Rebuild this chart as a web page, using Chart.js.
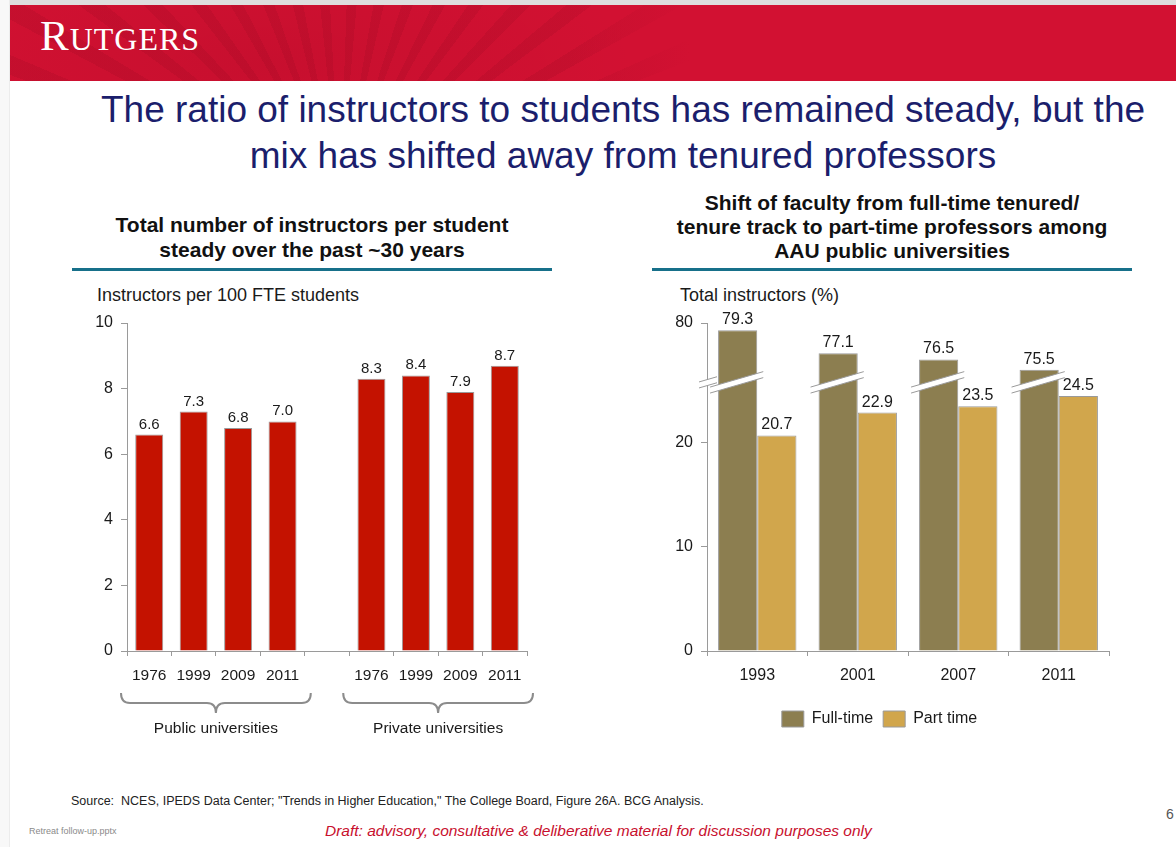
<!DOCTYPE html>
<html>
<head>
<meta charset="utf-8">
<script src="https://cdn.jsdelivr.net/npm/chart.js@4.4.1/dist/chart.umd.min.js"></script>
<style>
  body { margin:0; width:1176px; height:847px; position:relative; overflow:hidden; background:#fff;
         font-family:"Liberation Sans", Arial, sans-serif; color:#1a1a1a; }
  .abs { position:absolute; }
  #frame-top { left:0; top:0; width:1176px; height:5px; background:#dedede; }
  #frame-left { left:0; top:0; width:9px; height:847px; background:#f8f8f8; border-right:1px solid #ececec; }
  #banner { left:10px; top:5px; width:1166px; height:76px; overflow:hidden;
            background:
              radial-gradient(ellipse 520px 200px at 260px 60px, rgba(120,0,20,0.12), rgba(120,0,20,0) 70%),
              repeating-conic-gradient(from 10deg at 330px 190px, rgba(90,0,15,0.09) 0deg 3deg, rgba(0,0,0,0) 3deg 8deg);
            background-color:#d21132; }
  #banner .fade { position:absolute; left:560px; top:0; width:606px; height:76px;
            background:linear-gradient(90deg, rgba(210,17,50,0) 0px, #d21132 120px); }
  #logo { left:40px; top:14px; color:#fff; font-family:"Liberation Serif","DejaVu Serif",serif;
          letter-spacing:1px; white-space:nowrap; line-height:1; }
  #logo .big { font-size:43px; }
  #logo .small { font-size:32px; }
  #title { left:80px; top:87px; width:1086px; text-align:center; font-size:37px; line-height:46px; color:#1b1e6c; white-space:nowrap; }
  .subtitle { font-weight:bold; font-size:21px; text-align:center; width:480px; color:#111; white-space:nowrap; }
  .rule { height:3px; width:480px; background:#17708a; top:268px; }
  .axis-title { font-size:18px; line-height:20px; top:285px; color:#1a1a1a; white-space:nowrap; }
  #source { left:71px; top:794px; font-size:12.5px; color:#222; white-space:nowrap; }
  #draft { left:325px; top:822px; font-size:15.5px; font-style:italic; color:#c8102e; white-space:nowrap; }
  #file { left:29px; top:826px; font-size:9px; color:#8a8a8a; white-space:nowrap; }
  #page { left:1166px; top:806px; font-size:14px; color:#555; }
</style>
</head>
<body>
<div id="frame-top" class="abs"></div>
<div id="frame-left" class="abs"></div>
<div id="banner" class="abs"><div class="fade"></div></div>
<div id="logo" class="abs"><span class="big">R</span><span class="small">UTGERS</span></div>

<div id="title" class="abs">The ratio of instructors to students has remained steady, but the<br>mix has shifted away from tenured professors</div>

<div class="abs subtitle" style="left:72px; top:212px; line-height:25px;">Total number of instructors per student<br>steady over the past ~30 years</div>
<div class="abs rule" style="left:72px;"></div>
<div class="abs subtitle" style="left:652px; top:191px; line-height:24px;">Shift of faculty from full-time tenured/<br>tenure track to part-time professors among<br>AAU public universities</div>
<div class="abs rule" style="left:652px;"></div>

<div class="abs axis-title" style="left:97px;">Instructors per 100 FTE students</div>
<div class="abs axis-title" style="left:680px;">Total instructors (%)</div>

<canvas id="leftChart" class="abs" width="480" height="450" style="left:70px; top:300px;"></canvas>
<canvas id="rightChart" class="abs" width="500" height="437" style="left:650px; top:300px;"></canvas>

<div id="source" class="abs">Source:&nbsp; NCES, IPEDS Data Center; "Trends in Higher Education," The College Board, Figure 26A. BCG Analysis.</div>
<div id="file" class="abs">Retreat follow-up.pptx</div>
<div id="draft" class="abs">Draft: advisory, consultative &amp; deliberative material for discussion purposes only</div>
<div id="page" class="abs">6</div>

<script>
// ---- left chart: instructors per 100 FTE students ----
const eduYears = ['1976', '1999', '2009', '2011', '', '1976', '1999', '2009', '2011'];
const instructorsPer100 = [6.6, 7.3, 6.8, 7.0, null, 8.3, 8.4, 7.9, 8.7];
const leftTicks = [0, 2, 4, 6, 8, 10];
const groupLabels = ['Public universities', 'Private universities'];
const groupSpans = [[0, 3], [5, 8]];

// ---- right chart: full-time vs part-time share ----
const aauYears = ['1993', '2001', '2007', '2011'];
const fullTime = [79.3, 77.1, 76.5, 75.5];
const partTime = [20.7, 22.9, 23.5, 24.5];
const rightTicks = [0, 10, 20, 80];
const BREAK_AT = 25.8;     // where the y axis is cut
const BREAK_SHIFT = 48.5;  // value range removed above the cut

const toAxis = v => (v > 50 ? v - BREAK_SHIFT : v);

const FONT = '"Liberation Sans", Arial, sans-serif';
const GREY = '#9a9a9a';

// labels above each bar, using the real (unshifted) values
const valueLabels = {
  id: 'valueLabels',
  afterDatasetsDraw(chart, args, opts) {
    const ctx = chart.ctx;
    ctx.save();
    ctx.font = `${opts.size || 15}px ${FONT}`;
    ctx.fillStyle = '#1a1a1a';
    ctx.textAlign = 'center';
    ctx.textBaseline = 'alphabetic';
    opts.values.forEach((vals, i) => {
      chart.getDatasetMeta(i).data.forEach((bar, j) => {
        if (vals[j] == null) return;
        ctx.fillText(vals[j].toFixed(1), bar.x, bar.y - 6);
      });
    });
    ctx.restore();
  }
};

// curly braces grouping the x categories
const groupBraces = {
  id: 'groupBraces',
  afterDraw(chart, args, opts) {
    const { ctx, chartArea, scales: { x } } = chart;
    const step = x.getPixelForValue(1) - x.getPixelForValue(0);
    const top = chartArea.bottom + 42, mid = chartArea.bottom + 52, tip = chartArea.bottom + 62;
    ctx.save();
    ctx.strokeStyle = '#8c8c8c';
    ctx.lineWidth = 2;
    groupSpans.forEach(([a, b], i) => {
      const L = x.getPixelForValue(a) - step / 2 - 6;
      const R = x.getPixelForValue(b) + step / 2 + 6;
      const C = (L + R) / 2;
      ctx.beginPath();
      ctx.moveTo(L, top);
      ctx.quadraticCurveTo(L, mid, L + 9, mid);
      ctx.lineTo(C - 9, mid);
      ctx.quadraticCurveTo(C, mid, C, tip);
      ctx.quadraticCurveTo(C, mid, C + 9, mid);
      ctx.lineTo(R - 9, mid);
      ctx.quadraticCurveTo(R, mid, R, top);
      ctx.stroke();
      ctx.fillStyle = '#1a1a1a';
      ctx.font = `15.5px ${FONT}`;
      ctx.textAlign = 'center';
      ctx.textBaseline = 'middle';
      ctx.fillText(groupLabels[i], C, chartArea.bottom + 78);
    });
    ctx.restore();
  }
};

// slanted white band marking the cut in the y axis and the full-time bars
const axisBreak = {
  id: 'axisBreak',
  afterDatasetsDraw(chart) {
    const { ctx, chartArea, scales: { y } } = chart;
    const yc = y.getPixelForValue(BREAK_AT);
    const slope = 0.29, half = 3;
    function band(x0, x1) {
      const xc = (x0 + x1) / 2;
      const yAt = X => yc - slope * (X - xc);
      ctx.beginPath();
      ctx.moveTo(x0, yAt(x0) - half);
      ctx.lineTo(x1, yAt(x1) - half);
      ctx.lineTo(x1, yAt(x1) + half);
      ctx.lineTo(x0, yAt(x0) + half);
      ctx.closePath();
      ctx.fillStyle = '#fff';
      ctx.fill();
      ctx.beginPath();
      ctx.moveTo(x0, yAt(x0) - half); ctx.lineTo(x1, yAt(x1) - half);
      ctx.moveTo(x0, yAt(x0) + half); ctx.lineTo(x1, yAt(x1) + half);
      ctx.strokeStyle = GREY;
      ctx.lineWidth = 1;
      ctx.stroke();
    }
    ctx.save();
    band(chartArea.left - 8, chartArea.left + 10);
    chart.getDatasetMeta(0).data.forEach(bar => {
      band(bar.x - bar.width / 2 - 8, bar.x + bar.width / 2 + 6);
    });
    ctx.restore();
  }
};

Chart.defaults.font.family = FONT;
Chart.defaults.color = '#1a1a1a';

new Chart(document.getElementById('leftChart'), {
  type: 'bar',
  data: {
    labels: eduYears,
    datasets: [{
      data: instructorsPer100,
      backgroundColor: '#c41200',
      borderColor: GREY,
      borderWidth: 1,
      barPercentage: 0.63,
      categoryPercentage: 1.0
    }]
  },
  options: {
    responsive: false,
    animation: false,
    layout: { padding: { top: 23, right: 23, left: 0, bottom: 0 } },
    plugins: {
      legend: { display: false },
      tooltip: { enabled: false },
      valueLabels: { values: [instructorsPer100], size: 15 }
    },
    scales: {
      x: {
        afterFit: s => { s.height = 99; },
        grid: { drawOnChartArea: false, offset: true, tickLength: 5, color: GREY },
        border: { color: GREY },
        ticks: { font: { size: 15.5 }, padding: 10, maxRotation: 0, autoSkip: false }
      },
      y: {
        min: 0, max: 10,
        afterFit: s => { s.width = 57; },
        afterBuildTicks: s => { s.ticks = leftTicks.map(v => ({ value: v })); },
        grid: { drawOnChartArea: false, tickLength: 6, color: GREY },
        border: { color: GREY },
        ticks: { font: { size: 16 }, padding: 8 }
      }
    }
  },
  plugins: [valueLabels, groupBraces]
});

new Chart(document.getElementById('rightChart'), {
  type: 'bar',
  data: {
    labels: aauYears,
    datasets: [{
      label: 'Full-time',
      data: fullTime.map(toAxis),
      backgroundColor: '#8c7e50',
      borderColor: GREY,
      borderWidth: 1,
      barPercentage: 1.0,
      categoryPercentage: 0.78
    }, {
      label: 'Part time',
      data: partTime.map(toAxis),
      backgroundColor: '#d1a64c',
      borderColor: GREY,
      borderWidth: 1,
      barPercentage: 1.0,
      categoryPercentage: 0.78
    }]
  },
  options: {
    responsive: false,
    animation: false,
    layout: { padding: { top: 23, right: 41, left: 0, bottom: 0 } },
    plugins: {
      legend: {
        position: 'bottom',
        labels: { boxWidth: 22, boxHeight: 16, font: { size: 16 }, padding: 10, color: '#1a1a1a' }
      },
      tooltip: { enabled: false },
      valueLabels: { values: [fullTime, partTime], size: 16 }
    },
    scales: {
      x: {
        afterFit: s => { s.height = 50; },
        grid: { drawOnChartArea: false, offset: true, tickLength: 5, color: GREY },
        border: { color: GREY },
        ticks: { font: { size: 16 }, padding: 10, maxRotation: 0 }
      },
      y: {
        min: 0, max: toAxis(80),
        afterFit: s => { s.width = 57; },
        afterBuildTicks: s => { s.ticks = rightTicks.map(v => ({ value: toAxis(v) })); },
        grid: { drawOnChartArea: false, tickLength: 6, color: GREY },
        border: { color: GREY },
        ticks: {
          font: { size: 16 }, padding: 8,
          callback: (val, i) => String(rightTicks[i])
        }
      }
    }
  },
  plugins: [axisBreak, valueLabels]
});
</script>
</body>
</html>
